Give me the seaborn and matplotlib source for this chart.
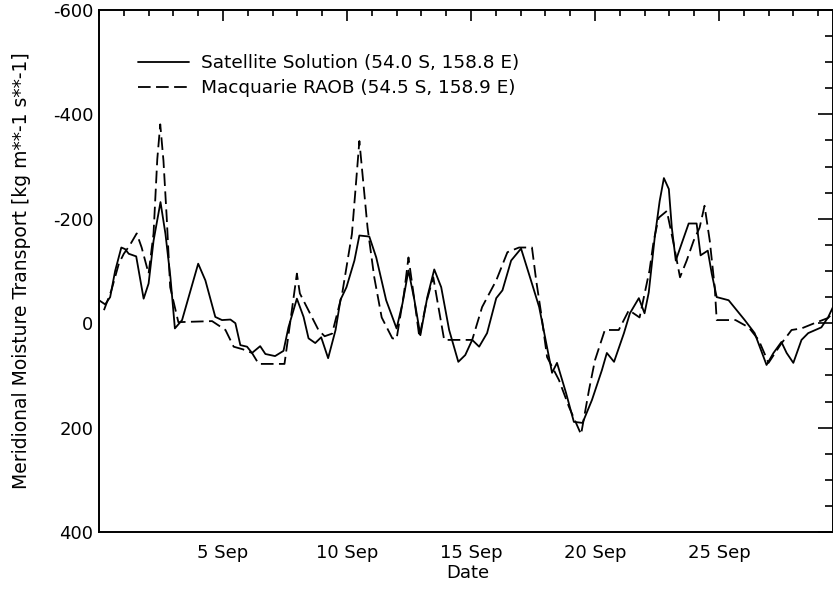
import matplotlib
matplotlib.use("Agg")
import matplotlib.pyplot as plt
import seaborn as sns
import pandas as pd
from matplotlib.ticker import MultipleLocator, FixedLocator, FixedFormatter

# ---- data (x = day of September, 0 = 31 Aug) ----
sat_day = [0.0, 0.25, 0.45, 0.65, 0.9, 1.05, 1.2, 1.5, 1.8, 2.0, 2.2, 2.48, 2.68, 2.88,
           3.06, 3.35, 4.0, 4.29, 4.69, 4.96, 5.3, 5.5, 5.7, 5.97, 6.17, 6.5, 6.71, 7.1,
           7.44, 7.64, 7.98, 8.25, 8.45, 8.72, 8.96, 9.24, 9.54, 9.74, 9.98, 10.3, 10.5,
           10.9, 11.18, 11.58, 12.0, 12.24, 12.48, 12.72, 12.96, 13.24, 13.52, 13.8, 14.12,
           14.49, 14.77, 15.05, 15.33, 15.65, 16.02, 16.27, 16.62, 17.02, 17.42, 17.75,
           18.27, 18.47, 18.83, 19.15, 19.5, 19.88, 20.28, 20.48, 20.77, 21.17, 21.41,
           21.77, 22.0, 22.17, 22.41, 22.61, 22.78, 22.98, 23.1, 23.26, 23.5, 23.78, 24.1,
           24.26, 24.55, 24.71, 24.91, 25.39, 26.04, 26.44, 26.92, 27.2, 27.52, 27.73,
           28.0, 28.33, 28.6, 29.13, 29.4, 29.6]
sat_val = [-44, -36, -50, -100, -145, -142, -133, -128, -47, -76, -158, -232, -171, -88,
           10, -6, -114, -82, -12, -6, -7, 0, 42, 45, 57, 44, 59, 63,
           53, 8, -47, -12, 29, 38, 27, 67, 13, -45, -69, -120, -168,
           -166, -126, -44, 10, -38, -101, -44, 23, -50, -103, -69, 13,
           74, 61, 32, 45, 19, -48, -63, -120, -143, -82, -31,
           95, 76, 133, 189, 191, 147, 90, 57, 74, 19, -19,
           -48, -19, -59, -164, -234, -278, -257, -183, -120, -153, -191, -191,
           -130, -139, -95, -50, -44, -6, 19, 80, 57, 36, 57,
           76, 32, 19, 8, -11, -31]

raob_day = [0.2, 0.5, 0.8, 1.0, 1.25, 1.52, 1.72, 2.0, 2.2, 2.35, 2.47, 2.6, 2.73, 2.87,
            3.2, 4.56, 5.1, 5.43, 5.8, 6.17, 6.44, 7.48, 7.98, 8.1, 8.85, 9.1, 9.4, 9.8,
            10.2, 10.5, 10.83, 11.1, 11.4, 11.83, 12.0, 12.3, 12.48, 12.72, 12.92, 13.2,
            13.48, 13.64, 13.92, 15.05, 15.45, 16.02, 16.47, 16.94, 17.46, 17.63, 17.83,
            18.07, 18.55, 18.95, 19.44, 19.76, 20.0, 20.4, 20.96, 21.37, 21.8, 22.2, 22.37,
            22.57, 22.9, 23.17, 23.43, 23.7, 23.98, 24.22, 24.42, 24.63, 24.83, 24.91,
            25.67, 26.2, 26.6, 27.0, 27.5, 27.93, 28.33, 28.85, 29.4, 29.6]
raob_val = [-25, -63, -114, -133, -150, -172, -145, -95, -172, -314, -381, -311, -203, -69,
            -2, -4, 13, 45, 50, 57, 78, 78, -95, -57, 13, 25, 20, -55,
            -171, -349, -183, -88, -11, 29, 30, -57, -126, -44, 27, -40,
            -88, -44, 32, 32, -31, -82, -136, -145, -145, -82, -19,
            65, 109, 160, 213, 128, 71, 13, 13, -25, -11, -101, -158,
            -202, -215, -153, -88, -120, -158, -183, -225, -158, -69, -6,
            -6, 8, 32, 76, 40, 13, 10, 0, -10, -20]

tick_days = [5, 10, 15, 20, 25]
tick_labels = ["5 Sep", "10 Sep", "15 Sep", "20 Sep", "25 Sep"]
sat_label = "Satellite Solution (54.0 S, 158.8 E)"
raob_label = "Macquarie RAOB (54.5 S, 158.9 E)"

sns.set_style("white")
plt.rcParams["font.family"] = ["DejaVu Sans"]
plt.rcParams["axes.unicode_minus"] = False
plt.rcParams["text.color"] = "black"
plt.rcParams["axes.labelcolor"] = "black"

fig = plt.figure(figsize=(8.33, 5.90), dpi=100)
ax = fig.add_axes([99 / 833, 58 / 590, 734 / 833, 522 / 590])

sat_df = pd.DataFrame({"day": sat_day, "val": sat_val})
raob_df = pd.DataFrame({"day": raob_day, "val": raob_val})
sns.lineplot(data=sat_df, x="day", y="val", ax=ax, color="black", lw=1.3,
             label=sat_label, sort=False)
sns.lineplot(data=raob_df, x="day", y="val", ax=ax, color="black", lw=1.3,
             linestyle=(0, (7, 3)), label=raob_label, sort=False)

ax.set_xlim(0, 29.6)
ax.set_ylim(400, -600)

ax.xaxis.set_major_locator(FixedLocator(tick_days))
ax.xaxis.set_major_formatter(FixedFormatter(tick_labels))
ax.xaxis.set_minor_locator(MultipleLocator(1))
ax.yaxis.set_major_locator(MultipleLocator(200))
ax.yaxis.set_minor_locator(MultipleLocator(50))

for s in ax.spines.values():
    s.set_visible(True)
    s.set_linewidth(1.4)
    s.set_color("black")

ax.tick_params(axis="both", which="both", direction="in", top=True, right=True,
               color="black", width=1.2, labelsize=13, labelcolor="black")
ax.tick_params(axis="y", which="major", length=11, pad=4)
ax.tick_params(axis="y", which="minor", length=6)
ax.tick_params(axis="x", which="major", length=8, pad=9)
ax.tick_params(axis="x", which="minor", length=4.5)

ax.set_xlabel("Date", fontsize=13, color="black")
ax.xaxis.set_label_coords(0.503, -0.062)
ax.set_ylabel("Meridional Moisture Transport [kg m**-1 s**-1]", fontsize=13.5, color="black")
ax.yaxis.set_label_coords(-0.092, 0.5)

leg = ax.legend(loc="upper left", bbox_to_anchor=(0.053, 0.915), frameon=False,
                fontsize=13.3, handlelength=2.75, handletextpad=0.65, labelspacing=0.36,
                borderaxespad=0, borderpad=0)
for t in leg.get_texts():
    t.set_color("black")

fig.savefig("out.png", dpi=100, facecolor="white")
